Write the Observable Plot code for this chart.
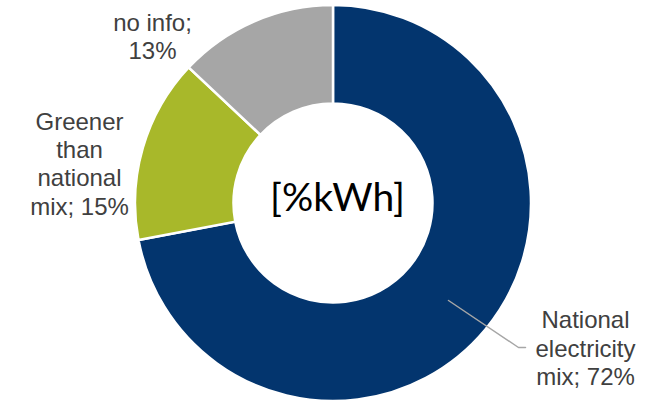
<!DOCTYPE html>
<html><head><meta charset="utf-8">
<script src="https://cdn.jsdelivr.net/npm/d3@7"></script>
<script src="https://cdn.jsdelivr.net/npm/@observablehq/plot@0.6"></script>
<style>html,body{margin:0;padding:0;background:#fff;} #chart svg{display:block}</style>
</head><body><div id="chart"></div>
<script>
// ---- data ----
const categories = ["National electricity mix", "Greener than national mix", "no info"];
const shares = [72, 15, 13];
const labelTexts = ["National\nelectricity\nmix; 72%", "Greener\nthan\nnational\nmix; 15%", "no info;\n13%"];
const colors = ["#03356E", "#A8B82A", "#A6A6A6"];
const centerLabel = "[%kWh]";

// ---- layout (pixel units relative to donut centre) ----
const R = 198, r = 99.5;
const labelPos = [
  {x: 252, y: 144},
  {x: -254, y: -40.5},
  {x: -181, y: -167.5}
];
const leaderPts = [{x: 115, y: 97}, {x: 185, y: 144}, {x: 192, y: 144}];

const data = categories.map((c, i) => ({category: c, share: shares[i], label: labelTexts[i], ...labelPos[i]}));

function donut(index, scales) {
  const cx = scales.x(0), cy = scales.y(0);
  const k = Math.abs(scales.x(1) - scales.x(0));
  const color = scales.color || d3.scaleOrdinal(categories, colors);
  const arcs = d3.pie().sort(null).value(d => d.share)(data);
  const arc = d3.arc().innerRadius(r * k).outerRadius(R * k);
  const g = d3.create("svg:g").attr("transform", `translate(${cx},${cy})`);
  g.selectAll("path").data(arcs).join("path")
    .attr("d", arc)
    .attr("fill", d => color(d.data.category))
    .attr("stroke", "white")
    .attr("stroke-width", 2.5)
    .attr("stroke-linejoin", "miter");
  return g.node();
}

const chart = Plot.plot({
  width: 661,
  height: 401,
  margin: 0,
  style: {background: "white"},
  x: {domain: [-333, 328], axis: null},
  y: {domain: [198, -203], axis: null},
  color: {domain: categories, range: colors},
  marks: [
    Plot.dot(data, {x: () => 0, y: () => 0, fill: "category", r: 0}),
    donut,
    Plot.line(leaderPts, {x: "x", y: "y", stroke: "#A6A6A6", strokeWidth: 1.5}),
    Plot.text(data, {x: "x", y: "y", text: "label", fontSize: 24, lineHeight: 1.18,
      fontFamily: "'Liberation Sans', Arial, sans-serif", fill: "#404040", textAnchor: "middle"}),
    Plot.text([centerLabel], {x: () => 4, y: () => -5, text: d => d, fontSize: 39,
      fontFamily: "Lato, 'Open Sans', sans-serif", fill: "#000", textAnchor: "middle"})
  ]
});
document.getElementById("chart").appendChild(chart);
</script>
</body></html>
